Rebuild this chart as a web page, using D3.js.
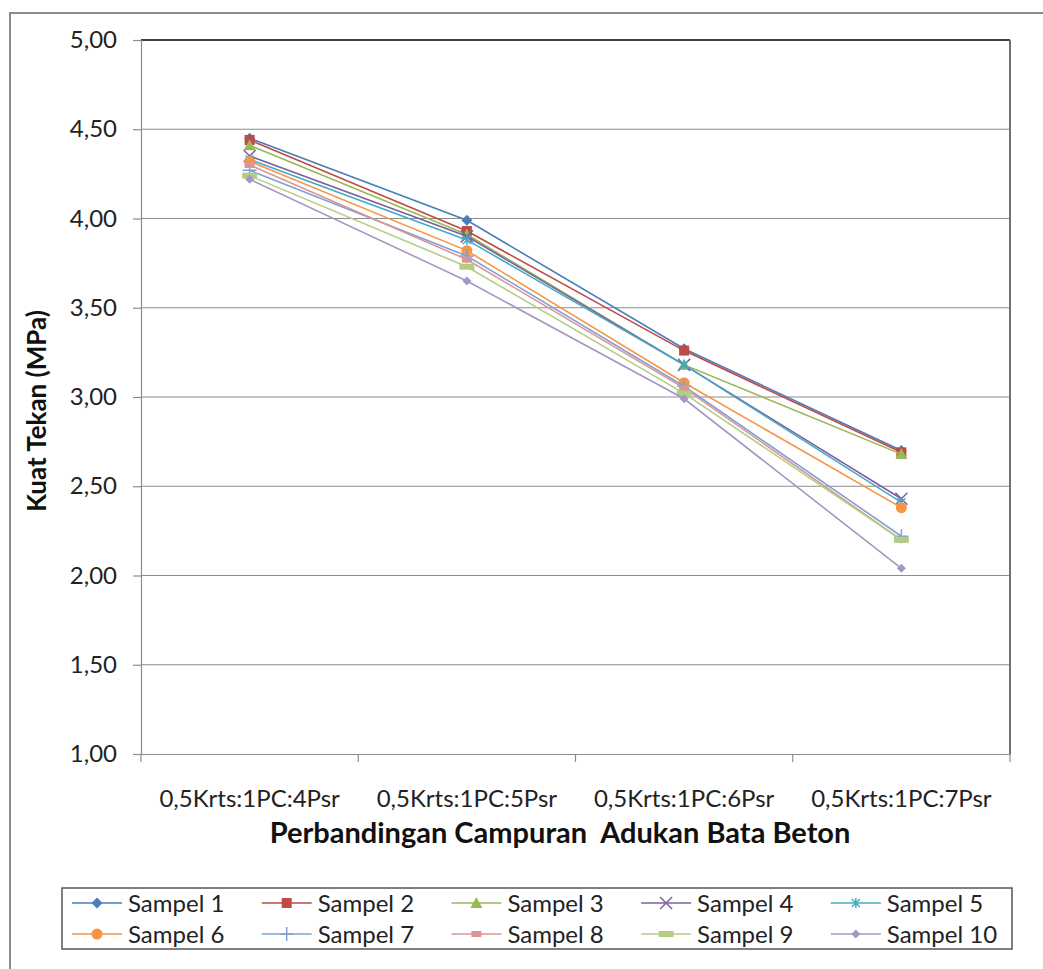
<!DOCTYPE html>
<html>
<head>
<meta charset="utf-8">
<script src="https://cdn.jsdelivr.net/npm/d3@7"></script>
<style>
  body { margin: 0; background: #fff; }
  svg { font-family: Lato, "Open Sans", sans-serif; }
  text { white-space: pre; }
</style>
</head>
<body>
<svg width="1043" height="969"></svg>
<script>
const categories = ["0,5Krts:1PC:4Psr", "0,5Krts:1PC:5Psr", "0,5Krts:1PC:6Psr", "0,5Krts:1PC:7Psr"];
const seriesNames = ["Sampel 1", "Sampel 2", "Sampel 3", "Sampel 4", "Sampel 5",
                     "Sampel 6", "Sampel 7", "Sampel 8", "Sampel 9", "Sampel 10"];
const sampel1 = [4.45, 3.99, 3.27, 2.70];
const sampel2 = [4.44, 3.93, 3.26, 2.69];
const sampel3 = [4.41, 3.91, 3.18, 2.68];
const sampel4 = [4.35, 3.90, 3.18, 2.43];
const sampel5 = [4.33, 3.88, 3.18, 2.41];
const sampel6 = [4.32, 3.82, 3.08, 2.38];
const sampel7 = [4.27, 3.79, 3.06, 2.22];
const sampel8 = [4.30, 3.77, 3.05, 2.20];
const sampel9 = [4.24, 3.73, 3.02, 2.20];
const sampel10 = [4.22, 3.65, 2.99, 2.04];
const yTicks = [1.0, 1.5, 2.0, 2.5, 3.0, 3.5, 4.0, 4.5, 5.0];

const values = [sampel1, sampel2, sampel3, sampel4, sampel5,
                sampel6, sampel7, sampel8, sampel9, sampel10];
const colors = ["#4a7ebb", "#be4b48", "#98b954", "#7d60a0", "#46aac5",
                "#f69544", "#7ea0d5", "#d99694", "#b3cd85", "#a796c2"];
const markers = ["diamond", "square", "triangle", "x", "star",
                 "circle", "plus", "dash", "longdash", "smalldiamond"];

const svg = d3.select("svg");
const fmt = d => d.toFixed(2).replace(".", ",");

// chart frame
svg.append("path")
  .attr("d", "M10,1000 L10,13 L1060,13")
  .attr("fill", "none")
  .attr("stroke", "#8c8c8c")
  .attr("stroke-width", 2);

const plot = { left: 141, right: 1010, top: 40, bottom: 754 };

const x = d3.scaleBand()
  .domain(categories)
  .range([plot.left, plot.right]);

const y = d3.scaleLinear()
  .domain([1, 5])
  .range([plot.bottom, plot.top]);

// GRID
svg.append("g")
  .selectAll("line")
  .data(yTicks.slice(1))
  .join("line")
  .attr("x1", plot.left)
  .attr("x2", plot.right)
  .attr("y1", d => y(d))
  .attr("y2", d => y(d))
  .attr("stroke", d => d === 5 ? "#000" : "#8c8c8c")
  .attr("stroke-width", d => d === 5 ? 1.5 : 1.2);

svg.append("line")
  .attr("x1", plot.right).attr("x2", plot.right)
  .attr("y1", plot.top).attr("y2", plot.bottom)
  .attr("stroke", "#707070").attr("stroke-width", 2);

// Y AXIS
const yAxis = svg.append("g")
  .attr("transform", `translate(${plot.left},0)`)
  .call(d3.axisLeft(y).tickValues(yTicks).tickSize(8).tickPadding(16).tickFormat(fmt));
yAxis.select(".domain").attr("stroke", "#8c8c8c").attr("stroke-width", 1.2);
yAxis.selectAll(".tick line").attr("stroke", "#8c8c8c").attr("stroke-width", 1.2);
yAxis.selectAll("text").attr("font-size", 24).attr("fill", "#222").attr("font-family", "Lato");

// X AXIS
const xAxis = svg.append("g")
  .attr("transform", `translate(0,${plot.bottom})`)
  .call(d3.axisBottom(x).tickSize(0).tickPadding(36));
xAxis.select(".domain").attr("stroke", "#8c8c8c").attr("stroke-width", 1.2);
xAxis.selectAll("text").attr("font-size", 24).attr("fill", "#222").attr("font-family", "Lato");

svg.append("g")
  .selectAll("line")
  .data(categories.map((c, i) => i === 0 ? plot.left : x(c)).concat([plot.right]))
  .join("line")
  .attr("x1", d => d).attr("x2", d => d)
  .attr("y1", plot.bottom).attr("y2", plot.bottom + 8)
  .attr("stroke", "#8c8c8c").attr("stroke-width", 1.2);

// TITLES
svg.append("text")
  .attr("x", 560)
  .attr("y", 843)
  .attr("text-anchor", "middle")
  .attr("font-size", 29)
  .attr("font-weight", "bold")
  .attr("fill", "#111")
  .text("Perbandingan Campuran  Adukan Bata Beton");

svg.append("text")
  .attr("transform", "translate(46,411) rotate(-90)")
  .attr("text-anchor", "middle")
  .attr("font-size", 26)
  .attr("font-weight", "bold")
  .attr("fill", "#111")
  .text("Kuat Tekan (MPa)");

// marker drawing
function drawMarker(g, type, color) {
  if (type === "diamond" || type === "smalldiamond") {
    const s = type === "diamond" ? 5.5 : 4.5;
    g.append("path").attr("d", `M0,${-s}L${s},0L0,${s}L${-s},0Z`).attr("fill", color);
  } else if (type === "square") {
    g.append("rect").attr("x", -5).attr("y", -5).attr("width", 10).attr("height", 10).attr("fill", color);
  } else if (type === "triangle") {
    g.append("path").attr("d", "M0,-6L6,5L-6,5Z").attr("fill", color);
  } else if (type === "x") {
    g.append("path").attr("d", "M-6,-6L6,6M-6,6L6,-6").attr("stroke", color).attr("stroke-width", 1.5);
  } else if (type === "star") {
    g.append("path").attr("d", "M-4,-4L4,4M-4,4L4,-4M0,-5L0,5").attr("stroke", color).attr("stroke-width", 1.5);
  } else if (type === "circle") {
    g.append("circle").attr("r", 5.5).attr("fill", color);
  } else if (type === "plus") {
    g.append("path").attr("d", "M-7,0L7,0M0,-7L0,7").attr("stroke", color).attr("stroke-width", 1.5);
  } else if (type === "dash") {
    g.append("rect").attr("x", -5).attr("y", -3).attr("width", 10).attr("height", 6).attr("fill", color);
  } else if (type === "longdash") {
    g.append("rect").attr("x", -7.5).attr("y", -3).attr("width", 15).attr("height", 6).attr("fill", color);
  }
}

// LINES + MARKERS
const cx = c => x(c) + x.bandwidth() / 2;
const line = d3.line()
  .x((d, i) => cx(categories[i]))
  .y(d => y(d));

values.forEach((vals, s) => {
  const g = svg.append("g");
  g.append("path")
    .attr("d", line(vals))
    .attr("fill", "none")
    .attr("stroke", colors[s])
    .attr("stroke-width", 1.6);
  vals.forEach((v, i) => {
    drawMarker(g.append("g").attr("transform", `translate(${cx(categories[i])},${y(v)})`), markers[s], colors[s]);
  });
});

// LEGEND
svg.append("rect")
  .attr("x", 62).attr("y", 888)
  .attr("width", 950).attr("height", 61)
  .attr("fill", "#fff")
  .attr("stroke", "#555")
  .attr("stroke-width", 1.5);

const legend = svg.append("g")
  .selectAll("g")
  .data(seriesNames)
  .join("g")
  .attr("transform", (d, i) => `translate(${72 + (i % 5) * 189.7},${i < 5 ? 903 : 934})`);

legend.append("line")
  .attr("x1", 0).attr("x2", 50)
  .attr("stroke", (d, i) => colors[i])
  .attr("stroke-width", 1.6);

legend.each(function(d, i) {
  drawMarker(d3.select(this).append("g").attr("transform", "translate(25,0)"), markers[i], colors[i]);
});

legend.append("text")
  .attr("x", 56)
  .attr("dy", "0.36em")
  .attr("font-size", 24)
  .attr("fill", "#222")
  .text(d => d);
</script>
</body>
</html>
